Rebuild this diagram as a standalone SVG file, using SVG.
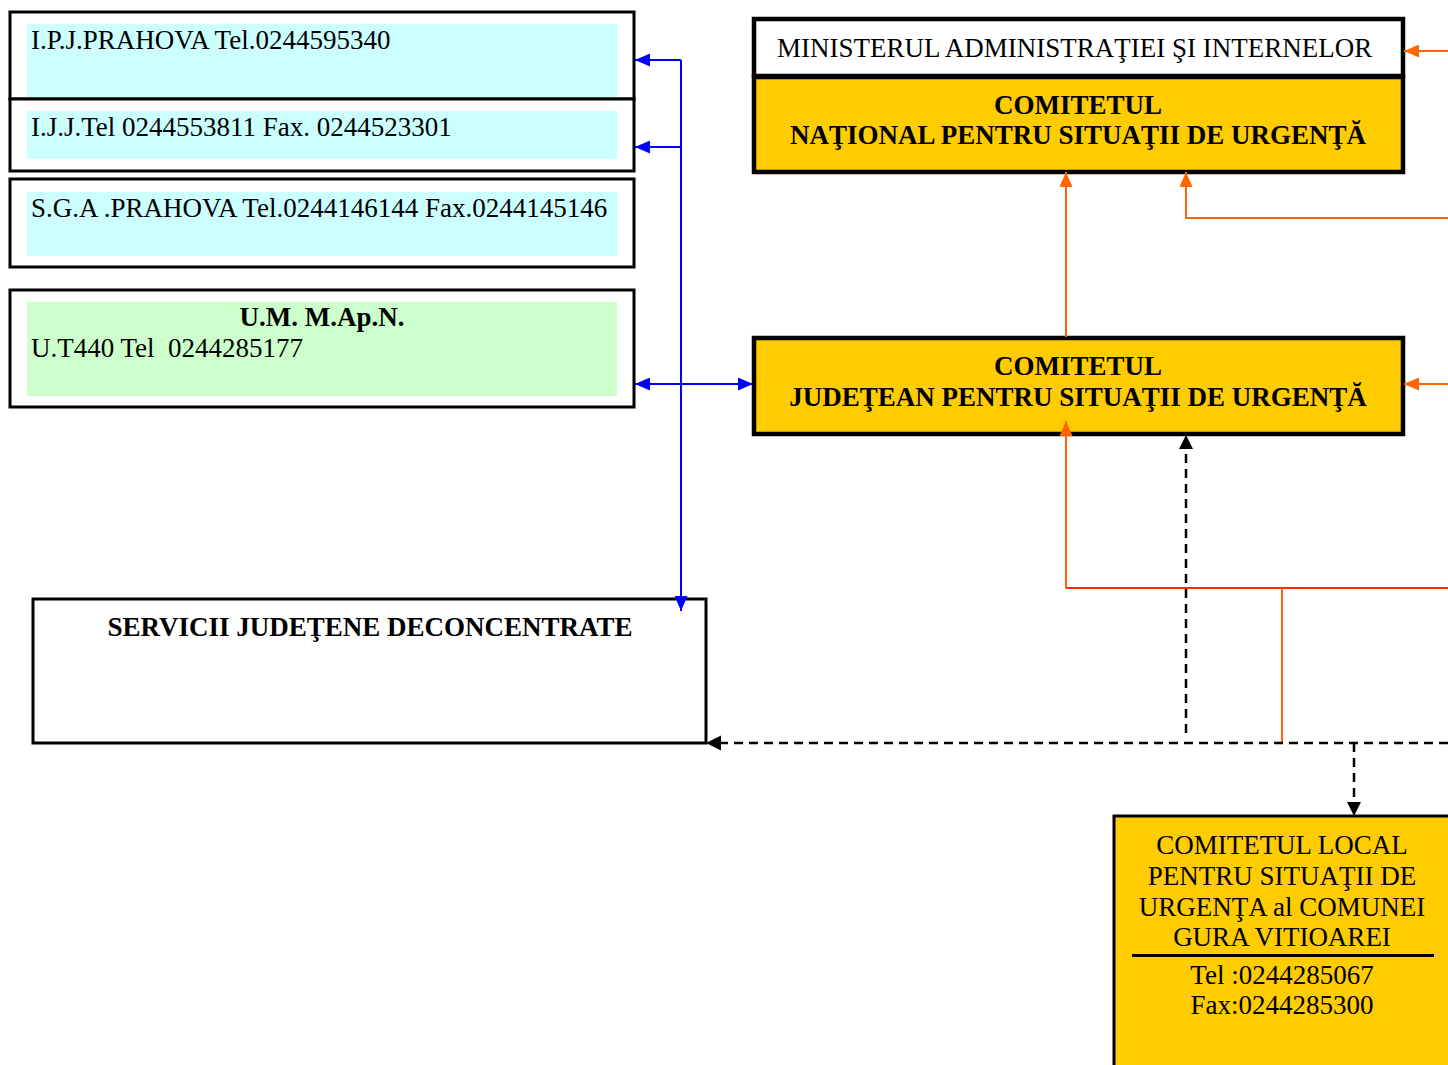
<svg xmlns="http://www.w3.org/2000/svg" width="1448" height="1065" viewBox="0 0 1448 1065">
<style>
text{font-family:"Liberation Serif","Times New Roman",serif;font-size:27px;fill:#000}
.b{font-weight:bold}
.c{text-anchor:middle}
.box{fill:#fff;stroke:#000;stroke-width:3}
.bigbox{stroke:#000;stroke-width:4.5}
.y{fill:#FFCC00}
.cy{fill:#CCFFFF}
.gr{fill:#CCFFCC}
.blue{stroke:#0000FF;stroke-width:2;fill:none}
.or{stroke:#FF6600;stroke-width:2;fill:none}
.red{stroke:#FF2A00;stroke-width:2;fill:none}
.dash{stroke:#000;stroke-width:2.5;stroke-dasharray:9 6;fill:none}
</style>
<defs>
<marker id="ab" markerUnits="userSpaceOnUse" markerWidth="15" markerHeight="13" refX="15" refY="6.5" orient="auto-start-reverse"><path d="M0,0L15,6.5L0,13z" fill="#0000FF"/></marker>
<marker id="ao" markerUnits="userSpaceOnUse" markerWidth="15" markerHeight="13" refX="15" refY="6.5" orient="auto"><path d="M0,0L15,6.5L0,13z" fill="#FF6600"/></marker>
</defs>
<rect width="1448" height="1065" fill="#fff"/>

<g id="ipj">
<rect class="box" x="10" y="12" width="624" height="87"/>
<rect class="cy" x="27" y="24" width="590" height="73"/>
<text x="31" y="49">I.P.J.PRAHOVA Tel.0244595340</text>
</g>
<g id="ijj">
<rect class="box" x="10" y="99" width="624" height="72"/>
<rect class="cy" x="27" y="111" width="590" height="48"/>
<text x="31" y="136">I.J.J.Tel 0244553811 Fax. 0244523301</text>
</g>
<g id="sga">
<rect class="box" x="10" y="179" width="624" height="88"/>
<rect class="cy" x="27" y="192" width="590" height="64"/>
<text x="31" y="217">S.G.A .PRAHOVA Tel.0244146144 Fax.0244145146</text>
</g>
<g id="um">
<rect class="box" x="10" y="290" width="624" height="117"/>
<rect class="gr" x="27" y="302" width="590" height="94"/>
<text class="b c" x="322" y="326">U.M. M.Ap.N.</text>
<text x="31" y="357" xml:space="preserve">U.T440 Tel  0244285177</text>
</g>

<g id="minister">
<rect class="bigbox" x="754" y="19" width="649" height="57" fill="#fff"/>
<text x="777" y="57">MINISTERUL ADMINISTRAŢIEI ŞI INTERNELOR</text>
</g>
<g id="national">
<rect class="bigbox y" x="754" y="77" width="649" height="95"/>
<text class="b c" x="1078" y="114">COMITETUL</text>
<text class="b c" x="1078" y="144">NAŢIONAL PENTRU SITUAŢII DE URGENŢĂ</text>
</g>
<g id="judetean">
<rect class="bigbox y" x="754" y="338" width="649" height="96"/>
<text class="b c" x="1078" y="375">COMITETUL</text>
<text class="b c" x="1078" y="406">JUDEŢEAN PENTRU SITUAŢII DE URGENŢĂ</text>
</g>
<g id="servicii">
<rect class="box" x="33" y="599" width="673" height="144"/>
<text class="b c" x="370" y="636">SERVICII JUDEŢENE DECONCENTRATE</text>
</g>
<g id="local">
<rect class="y" x="1114" y="816" width="340" height="260" stroke="#000" stroke-width="3"/>
<text class="c" x="1282" y="854">COMITETUL LOCAL</text>
<text class="c" x="1282" y="885">PENTRU SITUAŢII DE</text>
<text class="c" x="1282" y="916">URGENŢA al COMUNEI</text>
<text class="c" x="1282" y="946">GURA VITIOAREI</text>
<line x1="1132" y1="955.5" x2="1434" y2="955.5" stroke="#000" stroke-width="3"/>
<text class="c" x="1282" y="984">Tel :0244285067</text>
<text class="c" x="1282" y="1014">Fax:0244285300</text>
</g>

<g id="connectors">
<path class="blue" d="M681,60V611" marker-end="url(#ab)"/>
<path class="blue" d="M681,60H635" marker-end="url(#ab)"/>
<path class="blue" d="M681,147H635" marker-end="url(#ab)"/>
<path class="blue" d="M635,384H753" marker-start="url(#ab)" marker-end="url(#ab)"/>
<path class="or" d="M1448,51H1404" marker-end="url(#ao)"/>
<path class="or" d="M1448,384H1404" marker-end="url(#ao)"/>
<path class="or" d="M1066,337V172" marker-end="url(#ao)"/>
<path class="or" d="M1448,218H1186V172" marker-end="url(#ao)"/>
<path class="or" d="M1066,588V421" marker-end="url(#ao)"/>
<path class="red" d="M1066,588H1448"/>
<path class="or" d="M1282,588V743"/>
<path class="dash" d="M1186,733V449"/>
<path d="M1186,435l7,14h-14z" fill="#000"/>
<path class="dash" d="M1448,743H720"/>
<path d="M706,743l15,-7.5v15z" fill="#000"/>
<path class="dash" d="M1354,743V802"/>
<path d="M1354,816l-7,-14h14z" fill="#000"/>
</g>
</svg>
